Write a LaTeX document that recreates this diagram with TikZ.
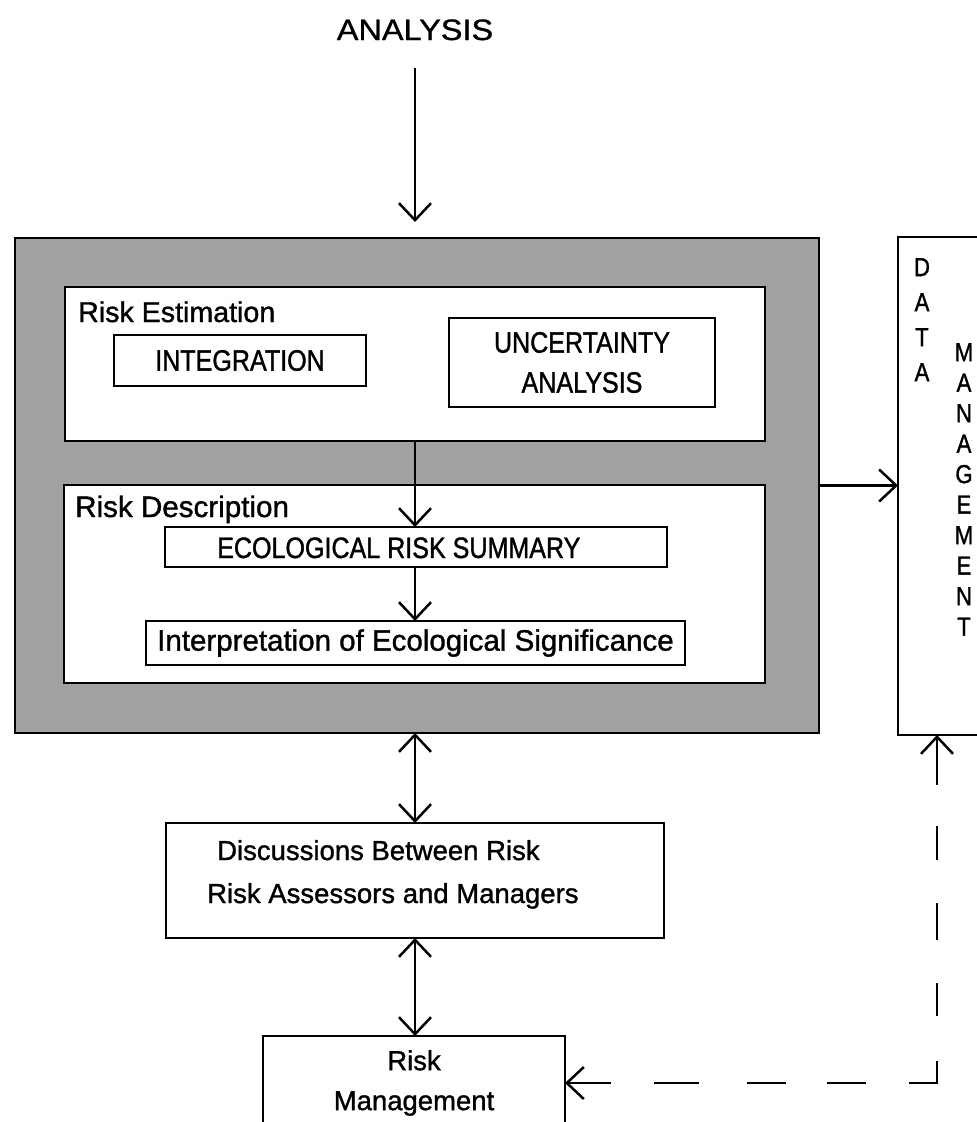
\documentclass[tikz,border=0pt]{standalone}
\usepackage{fontspec}
\setmainfont{Liberation Sans}[FakeBold=1.2,AutoFakeBold=1.2]
\newfontfamily\lowfont{Liberation Sans}[FakeBold=1.2]
\newfontfamily\capsfont{Liberation Sans}[FakeStretch=0.85,FakeBold=1.2]
\newfontfamily\widefont{Liberation Sans}[FakeStretch=1.1,FakeBold=1.0]
\usetikzlibrary{arrows.meta}
\definecolor{shade}{gray}{0.63}
\tikzset{
  box/.style={draw, line width=2.5pt, fill=white, inner sep=0pt, outer sep=0pt},
  arr/.style={line width=2.5pt, -{Straight Barb[length=17pt,width=32pt]}},
  darr/.style={line width=2.5pt, {Straight Barb[length=17pt,width=32pt]}-{Straight Barb[length=17pt,width=32pt]}},
  capstext/.style={inner sep=0pt, font={\capsfont\fontsize{29.5}{40}\selectfont}},
  lowtext/.style={inner sep=0pt, font={\lowfont\fontsize{27.5}{40}\selectfont}},
}
\begin{document}
\begin{tikzpicture}[x=1pt, y=-1pt]
\path[use as bounding box, clip] (0,0) rectangle (977,1122);
\fill[white] (0,0) rectangle (977,1122);

% top label
\node[anchor=base, inner sep=0pt, font={\widefont\fontsize{29.5}{36}\selectfont}] (analysis) at (415,40) {ANALYSIS};

% shaded frame
\node[box, fill=shade, minimum width=804pt, minimum height=495pt] (outer) at (417,485.5) {};

% Risk Estimation
\node[box, minimum width=700pt, minimum height=154pt] (est) at (415,364) {};
\node[anchor=base west, inner sep=0pt, font={\lowfont\fontsize{28.6}{34}\selectfont}] (estlab) at (78,322) {Risk Estimation};
\node[box, capstext, minimum width=252pt, minimum height=51pt] (integ) at (240,360.5) {INTEGRATION};
\node[box, capstext, align=center, minimum width=266pt, minimum height=89pt] (unc) at (582,362.5) {UNCERTAINTY\\ANALYSIS};

% Risk Description
\node[box, minimum width=701pt, minimum height=198pt] (desc) at (414.5,584) {};
\node[anchor=base west, inner sep=0pt, font={\lowfont\fontsize{29.6}{34}\selectfont}] (desclab) at (75,517) {Risk Description};
\node[box, minimum width=502pt, minimum height=40pt] (eco) at (416,547) {};
\node[capstext, anchor=base west] (ecotext) at (217,558) {ECOLOGICAL RISK SUMMARY};
\node[box, inner sep=0pt, font={\lowfont\fontsize{29.5}{34}\selectfont}, minimum width=539pt, minimum height=44pt] (interp) at (415.5,643) {Interpretation of Ecological Significance};

% Data management
\node[box, minimum width=132pt, minimum height=498pt] (dm) at (964,486) {};
\node[anchor=north, inner sep=0pt, align=center, font={\capsfont\fontsize{26}{35}\selectfont}] (data) at (922,258) {D\\A\\T\\A};
\node[anchor=north, inner sep=0pt, align=center, font={\capsfont\fontsize{26}{30.5}\selectfont}] (mgmt) at (964,343) {M\\A\\N\\A\\G\\E\\M\\E\\N\\T};

% Discussions
\node[box, minimum width=498pt, minimum height=115pt] (disc) at (415,880.5) {};
\node[lowtext, anchor=base west] (disc1) at (217,860) {Discussions Between Risk};
\node[lowtext, anchor=base west] (disc2) at (207,903) {Risk Assessors and Managers};

% Risk Management
\node[box, lowtext, align=center, minimum width=302pt, minimum height=94pt] (rm) at (414,1083) {Risk\\Management};

% connectors
\draw[arr] ([yshift=-28pt]analysis.base) -- ([yshift=16pt]analysis.base |- outer.north);
\draw[arr] (est.south) -- (est.south |- eco.north);
\draw[arr] (est.south |- eco.south) -- (est.south |- interp.north);
\draw[arr] (outer.east) -- (outer.east -| dm.west);
\draw[darr] (disc.north |- outer.south) -- (disc.north);
\draw[darr] (disc.south) -- (disc.south |- rm.north);
\coordinate (corner) at (937,1083);
\draw[darr, dash pattern=on 47pt off 41pt on 34pt off 43pt on 37pt off 43pt on 33pt off 45pt on 50pt off 43pt on 39pt off 41pt on 39pt off 48pt on 45pt off 43pt on 80pt off 10pt]
  (corner |- dm.south) -- (corner) -- (rm.east);
\end{tikzpicture}
\end{document}
